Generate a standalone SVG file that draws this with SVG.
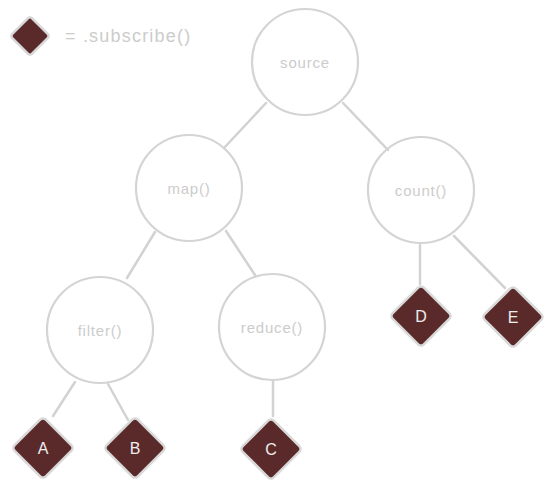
<svg xmlns="http://www.w3.org/2000/svg" width="555" height="494" viewBox="0 0 555 494">
<style>
.node circle{fill:none;stroke:#d4d4d4;stroke-width:2.2}
.lbl{font-family:"Liberation Sans",sans-serif;font-size:15px;letter-spacing:0.8px;fill:#cccccc;text-anchor:middle;dominant-baseline:central}
.dia{fill:#5a2a2a;stroke:#d8d8d8;stroke-width:2.5;stroke-linejoin:round}
.dl{font-family:"Liberation Sans",sans-serif;font-size:16px;fill:#eeeeee;text-anchor:middle;dominant-baseline:central}
.edges line{stroke:#d2d2d2;stroke-width:2.5;stroke-linecap:round}
</style>
<rect width="555" height="494" fill="#ffffff"/>
<g id="legend">
<rect class="dia" x="16" y="22" width="28" height="28" rx="3" transform="rotate(45 30 36)"/>
<text x="65" y="36" font-family="Liberation Sans,sans-serif" font-size="18" letter-spacing="1.2" fill="#cccccc" dominant-baseline="central">= .subscribe()</text>
</g>
<g class="edges" id="connectors">
<line x1="266" y1="103" x2="224" y2="148"/>
<line x1="343" y1="103" x2="388" y2="150"/>
<line x1="155" y1="232" x2="127" y2="278"/>
<line x1="226" y1="231" x2="255" y2="275"/>
<line x1="75" y1="382" x2="53" y2="416"/>
<line x1="108" y1="384" x2="128" y2="420"/>
<line x1="273" y1="381" x2="273" y2="416"/>
<line x1="420" y1="245" x2="420" y2="284"/>
<line x1="454" y1="236" x2="505" y2="288"/>
</g>
<g class="node" id="source"><circle cx="305" cy="62" r="53"/><text class="lbl" x="305" y="62">source</text></g>
<g class="node" id="map"><circle cx="189" cy="188" r="53"/><text class="lbl" x="189" y="188">map()</text></g>
<g class="node" id="count"><circle cx="421" cy="190" r="53"/><text class="lbl" x="421" y="190">count()</text></g>
<g class="node" id="filter"><circle cx="100" cy="330" r="53"/><text class="lbl" x="100" y="330">filter()</text></g>
<g class="node" id="reduce"><circle cx="272" cy="327" r="53"/><text class="lbl" x="272" y="327">reduce()</text></g>
<g id="A"><rect class="dia" x="21" y="426" width="44" height="44" rx="4" transform="rotate(45 43 448)"/><text class="dl" x="43" y="448">A</text></g>
<g id="B"><rect class="dia" x="113" y="426" width="44" height="44" rx="4" transform="rotate(45 135 448)"/><text class="dl" x="135" y="448">B</text></g>
<g id="C"><rect class="dia" x="249" y="427" width="44" height="44" rx="4" transform="rotate(45 271 449)"/><text class="dl" x="271" y="449">C</text></g>
<g id="D"><rect class="dia" x="399" y="294" width="44" height="44" rx="4" transform="rotate(45 421 316)"/><text class="dl" x="421" y="316">D</text></g>
<g id="E"><rect class="dia" x="491" y="295" width="44" height="44" rx="4" transform="rotate(45 513 317)"/><text class="dl" x="513" y="317">E</text></g>
</svg>
